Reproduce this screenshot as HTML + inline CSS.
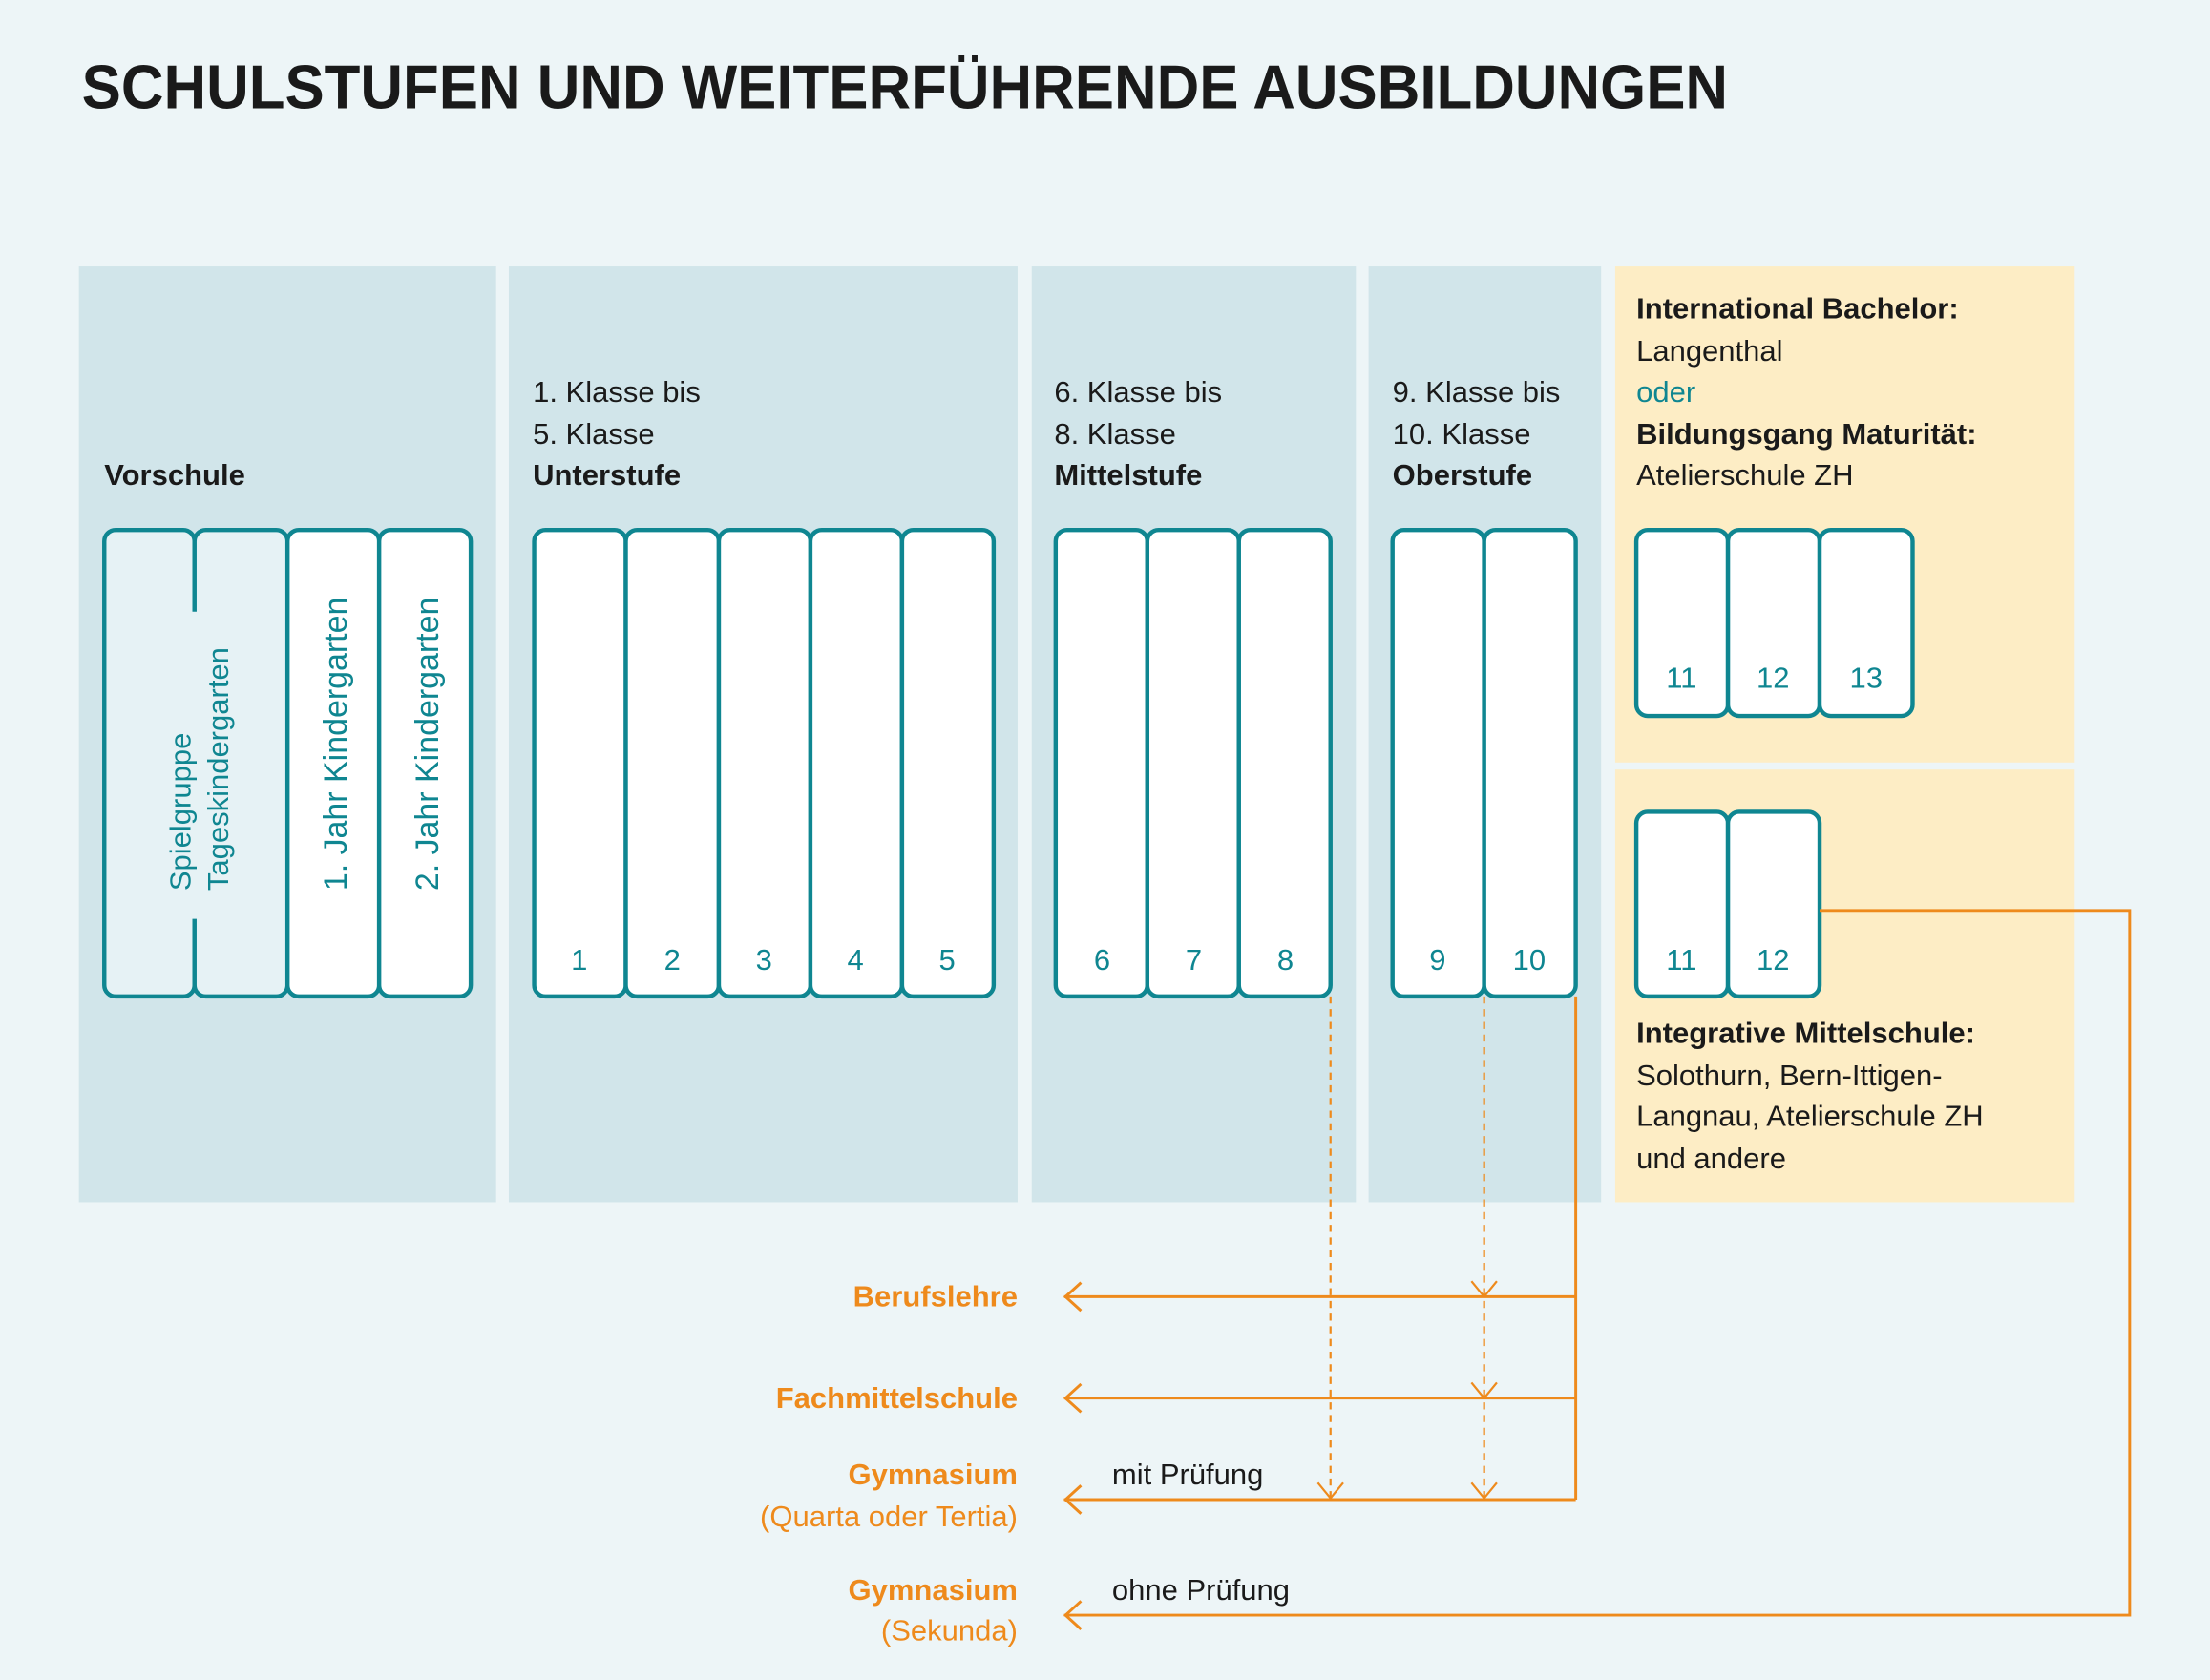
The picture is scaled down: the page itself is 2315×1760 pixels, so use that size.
<!DOCTYPE html>
<html><head><meta charset="utf-8"><style>
html,body{margin:0;padding:0;background:#edf5f7;}
svg{display:block;}
text{font-family:"Liberation Sans","DejaVu Sans",sans-serif;}
</style></head><body>
<svg width="2315" height="1760" viewBox="0 0 1568 1192" preserveAspectRatio="none" xmlns="http://www.w3.org/2000/svg">
<rect x="0" y="0" width="1568" height="1192" fill="#edf5f7"/>
<text x="58" y="77" font-size="44" fill="#1a1a1a" font-weight="bold" textLength="1168" lengthAdjust="spacingAndGlyphs">SCHULSTUFEN UND WEITERFÜHRENDE AUSBILDUNGEN</text>
<g fill="#d1e5ea">
<rect x="56" y="189" width="296" height="664"/>
<rect x="361" y="189" width="361" height="664"/>
<rect x="732" y="189" width="230" height="664"/>
<rect x="971" y="189" width="165" height="664"/>
</g>
<rect x="1146" y="189" width="326" height="352" fill="#fdedc5"/>
<rect x="1146" y="546" width="326" height="307" fill="#fdedc5"/>
<g font-size="21" fill="#1a1a1a">
<text x="74" y="344" font-weight="bold">Vorschule</text>
<text x="378" y="285">1. Klasse bis</text><text x="378" y="315">5. Klasse</text><text x="378" y="344" font-weight="bold">Unterstufe</text>
<text x="748" y="285">6. Klasse bis</text><text x="748" y="315">8. Klasse</text><text x="748" y="344" font-weight="bold">Mittelstufe</text>
<text x="988" y="285">9. Klasse bis</text><text x="988" y="315">10. Klasse</text><text x="988" y="344" font-weight="bold">Oberstufe</text>
<text x="1161" y="226" font-weight="bold">International Bachelor:</text>
<text x="1161" y="256">Langenthal</text>
<text x="1161" y="285" fill="#0f8691">oder</text>
<text x="1161" y="315" font-weight="bold">Bildungsgang Maturität:</text>
<text x="1161" y="344">Atelierschule ZH</text>
<text x="1161" y="740" font-weight="bold">Integrative Mittelschule:</text>
<text x="1161" y="770">Solothurn, Bern-Ittigen-</text>
<text x="1161" y="799">Langnau, Atelierschule ZH</text>
<text x="1161" y="829">und andere</text>
</g>
<g stroke="#0f8691" stroke-width="3">
<rect x="74" y="376" width="64" height="331" rx="8" fill="#e6f2f5"/>
<rect x="138" y="376" width="66" height="331" rx="8" fill="#e6f2f5"/>
<line x1="138" y1="434" x2="138" y2="652" stroke="#e6f2f5" stroke-width="6"/>
<g fill="#fff">
<rect x="204" y="376" width="65" height="331" rx="8"/>
<rect x="269" y="376" width="65" height="331" rx="8"/>
<rect x="379" y="376" width="65" height="331" rx="8"/>
<rect x="444" y="376" width="66" height="331" rx="8"/>
<rect x="510" y="376" width="65" height="331" rx="8"/>
<rect x="575" y="376" width="65" height="331" rx="8"/>
<rect x="640" y="376" width="65" height="331" rx="8"/>
<rect x="749" y="376" width="65" height="331" rx="8"/>
<rect x="814" y="376" width="65" height="331" rx="8"/>
<rect x="879" y="376" width="65" height="331" rx="8"/>
<rect x="988" y="376" width="65" height="331" rx="8"/>
<rect x="1053" y="376" width="65" height="331" rx="8"/>
<rect x="1161" y="376" width="65" height="132" rx="8"/>
<rect x="1226" y="376" width="65" height="132" rx="8"/>
<rect x="1291" y="376" width="66" height="132" rx="8"/>
<rect x="1161" y="576" width="65" height="131" rx="8"/>
<rect x="1226" y="576" width="65" height="131" rx="8"/>
</g>
</g>
<g font-size="21" fill="#0f8691" text-anchor="middle">
<text x="411" y="688">1</text><text x="477" y="688">2</text><text x="542" y="688">3</text><text x="607" y="688">4</text><text x="672" y="688">5</text>
<text x="782" y="688">6</text><text x="847" y="688">7</text><text x="912" y="688">8</text>
<text x="1020" y="688">9</text><text x="1085" y="688">10</text>
<text x="1193" y="488">11</text><text x="1258" y="488">12</text><text x="1324" y="488">13</text>
<text x="1193" y="688">11</text><text x="1258" y="688">12</text>
</g>
<g fill="#0f8691">
<text transform="translate(135,632) rotate(-90)" font-size="21">Spielgruppe</text>
<text transform="translate(162,632) rotate(-90)" font-size="21">Tageskindergarten</text>
<text transform="translate(246,632) rotate(-90)" font-size="23">1. Jahr Kindergarten</text>
<text transform="translate(311,632) rotate(-90)" font-size="23">2. Jahr Kindergarten</text>
</g>
<g stroke="#ee8a1c" fill="none" stroke-width="2">
<polyline points="1118,707 1118,1064"/>
<line x1="755" y1="920" x2="1118" y2="920"/>
<line x1="755" y1="992" x2="1118" y2="992"/>
<line x1="755" y1="1064" x2="1118" y2="1064"/>
<polyline points="1291,646 1511,646 1511,1146 755,1146"/>
<polyline points="767,910 756,920 767,930"/><polyline points="767,982 756,992 767,1002"/><polyline points="767,1054 756,1064 767,1074"/><polyline points="767,1136 756,1146 767,1156"/>
<g stroke-width="1.5">
<line x1="944" y1="707" x2="944" y2="1063" stroke-dasharray="5,4"/>
<line x1="1053" y1="707" x2="1053" y2="1063" stroke-dasharray="5,4"/>
<polyline points="935,1052 944,1063 953,1052"/>
<polyline points="1044,909 1053,920 1062,909"/>
<polyline points="1044,981 1053,992 1062,981"/>
<polyline points="1044,1052 1053,1063 1062,1052"/>
</g>
</g>
<g font-size="21" fill="#ee8a1c" text-anchor="end">
<text x="722" y="927" font-weight="bold">Berufslehre</text>
<text x="722" y="999" font-weight="bold">Fachmittelschule</text>
<text x="722" y="1053" font-weight="bold">Gymnasium</text>
<text x="722" y="1083">(Quarta oder Tertia)</text>
<text x="722" y="1135" font-weight="bold">Gymnasium</text>
<text x="722" y="1164">(Sekunda)</text>
</g>
<g font-size="21" fill="#1a1a1a">
<text x="789" y="1053">mit Prüfung</text>
<text x="789" y="1135">ohne Prüfung</text>
</g>
</svg>
</body></html>
